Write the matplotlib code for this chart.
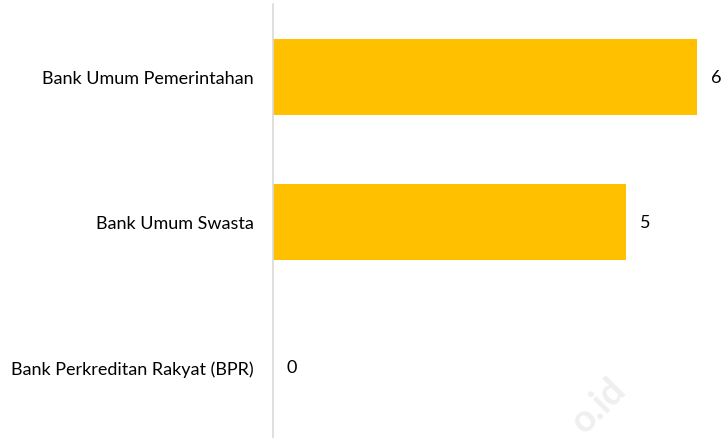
import matplotlib
matplotlib.use("Agg")
import matplotlib.pyplot as plt

categories = ["Bank Umum Pemerintahan", "Bank Umum Swasta", "Bank Perkreditan Rakyat (BPR)"]
values = [6, 5, 0]
watermark = "o.id"

plt.rcParams['font.family'] = ['Lato', 'DejaVu Sans']

fig = plt.figure(figsize=(7.23, 4.39), dpi=100)
W, H = 723, 439
ax = fig.add_axes([273 / W, 0, 1 - 273 / W, 1 - 5 / H])

ypos = list(range(len(categories)))
ax.barh(ypos, values, height=0.524, color="#FFC000", zorder=2)
ax.set_ylim(len(categories) - 1 + 0.49, -0.503)
ax.set_xlim(0, 6.37)

for y, v in zip(ypos, values):
    ax.annotate(str(v), xy=(v, y), xytext=(10, 0), textcoords="offset points",
                ha="left", va="center", fontsize=13, color="#000000")

ax.set_yticks(ypos)
ax.set_yticklabels(categories, fontsize=13, color="#000000")
ax.tick_params(axis="y", length=0, pad=14)
ax.set_xticks([])
for s in ["top", "right", "bottom"]:
    ax.spines[s].set_visible(False)
ax.spines["left"].set_color("#D9D9D9")
ax.spines["left"].set_linewidth(1.2)

fig.text(628 / W, 1 - 392 / H, watermark, rotation=45, rotation_mode="anchor",
         ha="right", va="baseline", fontsize=27, fontweight="bold", color="#EFEFEF", zorder=0)

fig.savefig("out.png", dpi=100)
